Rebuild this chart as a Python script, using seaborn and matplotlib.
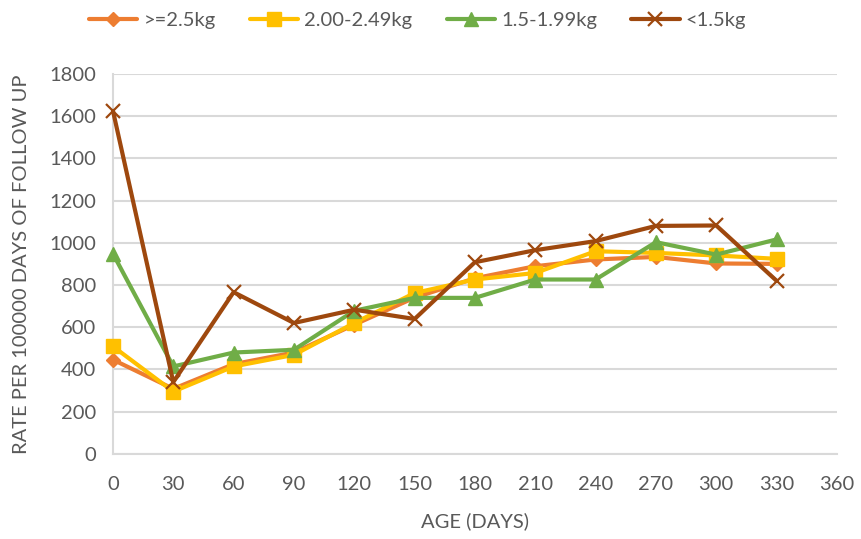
import matplotlib
matplotlib.use("Agg")
import matplotlib.pyplot as plt
import seaborn as sns
import pandas as pd

# Age at follow-up (days)
days = [0, 30, 60, 90, 120, 150, 180, 210, 240, 270, 300, 330]

# Rate per 100000 days of follow up, by birth weight group
ge_2_5 = [446, 308, 425, 480, 612, 740, 832, 889, 921, 933, 902, 900]
w_2_00_2_49 = [509, 295, 414, 469, 620, 762, 826, 857, 960, 952, 940, 924]
w_1_5_1_99 = [948, 414, 480, 493, 678, 739, 739, 826, 826, 1003, 944, 1016]
lt_1_5 = [1625, 340, 766, 620, 683, 639, 908, 965, 1008, 1080, 1082, 820]

series_names = [">=2.5kg", "2.00-2.49kg", "1.5-1.99kg", "<1.5kg"]
x_ticks = list(range(0, 361, 30))
y_ticks = list(range(0, 1801, 200))

sns.set_theme(style="white")
plt.rcParams["font.family"] = ["Lato", "DejaVu Sans"]

text_color = "#595959"
grid_color = "#D9D9D9"
fs = 14.5

styles = [
    dict(color="#ED7D31", marker="D", markersize=7),
    dict(color="#FFC000", marker="s", markersize=10),
    dict(color="#70AD47", marker="^", markersize=10),
    dict(color="#9E480E", marker="x", markersize=10, markeredgewidth=1.6),
]

fig = plt.figure(figsize=(8.61, 5.39), dpi=100)
ax = fig.add_axes([0.1312, 0.158, 0.8408, 0.7048])

for name, vals, st in zip(series_names, [ge_2_5, w_2_00_2_49, w_1_5_1_99, lt_1_5], styles):
    df = pd.DataFrame({"day": days, "rate": vals})
    sns.lineplot(
        data=df, x="day", y="rate", ax=ax, label=name,
        color=st["color"], marker=st["marker"], markersize=st["markersize"],
        markeredgecolor=st["color"], markeredgewidth=st.get("markeredgewidth", 1.0),
        linewidth=3, clip_on=False, zorder=3,
    )

ax.set_xlim(0, 360)
ax.set_ylim(0, 1800)
ax.set_xticks(x_ticks)
ax.set_yticks(y_ticks)
ax.tick_params(axis="y", length=0, labelsize=fs, colors=text_color, pad=12)
ax.tick_params(axis="x", length=0, labelsize=fs, colors=text_color, pad=16)
ax.yaxis.grid(True, color=grid_color, linewidth=1.5)
ax.xaxis.grid(False)
ax.set_axisbelow(True)

for side in ["top", "right"]:
    ax.spines[side].set_visible(False)
for side in ["left", "bottom"]:
    ax.spines[side].set_color(grid_color)
    ax.spines[side].set_linewidth(1.5)

ax.set_xlabel("AGE (DAYS)", fontsize=fs, color=text_color, labelpad=14)
ax.set_ylabel("RATE PER 100000 DAYS OF FOLLOW UP", fontsize=fs, color=text_color, labelpad=14)

ax.legend(
    loc="center", ncol=4, frameon=False, fontsize=fs, labelcolor=text_color,
    handlelength=2.4, columnspacing=1.7, handletextpad=0.3,
    bbox_to_anchor=(0.485, 0.962), bbox_transform=fig.transFigure,
)

fig.savefig("out.png", dpi=100)
